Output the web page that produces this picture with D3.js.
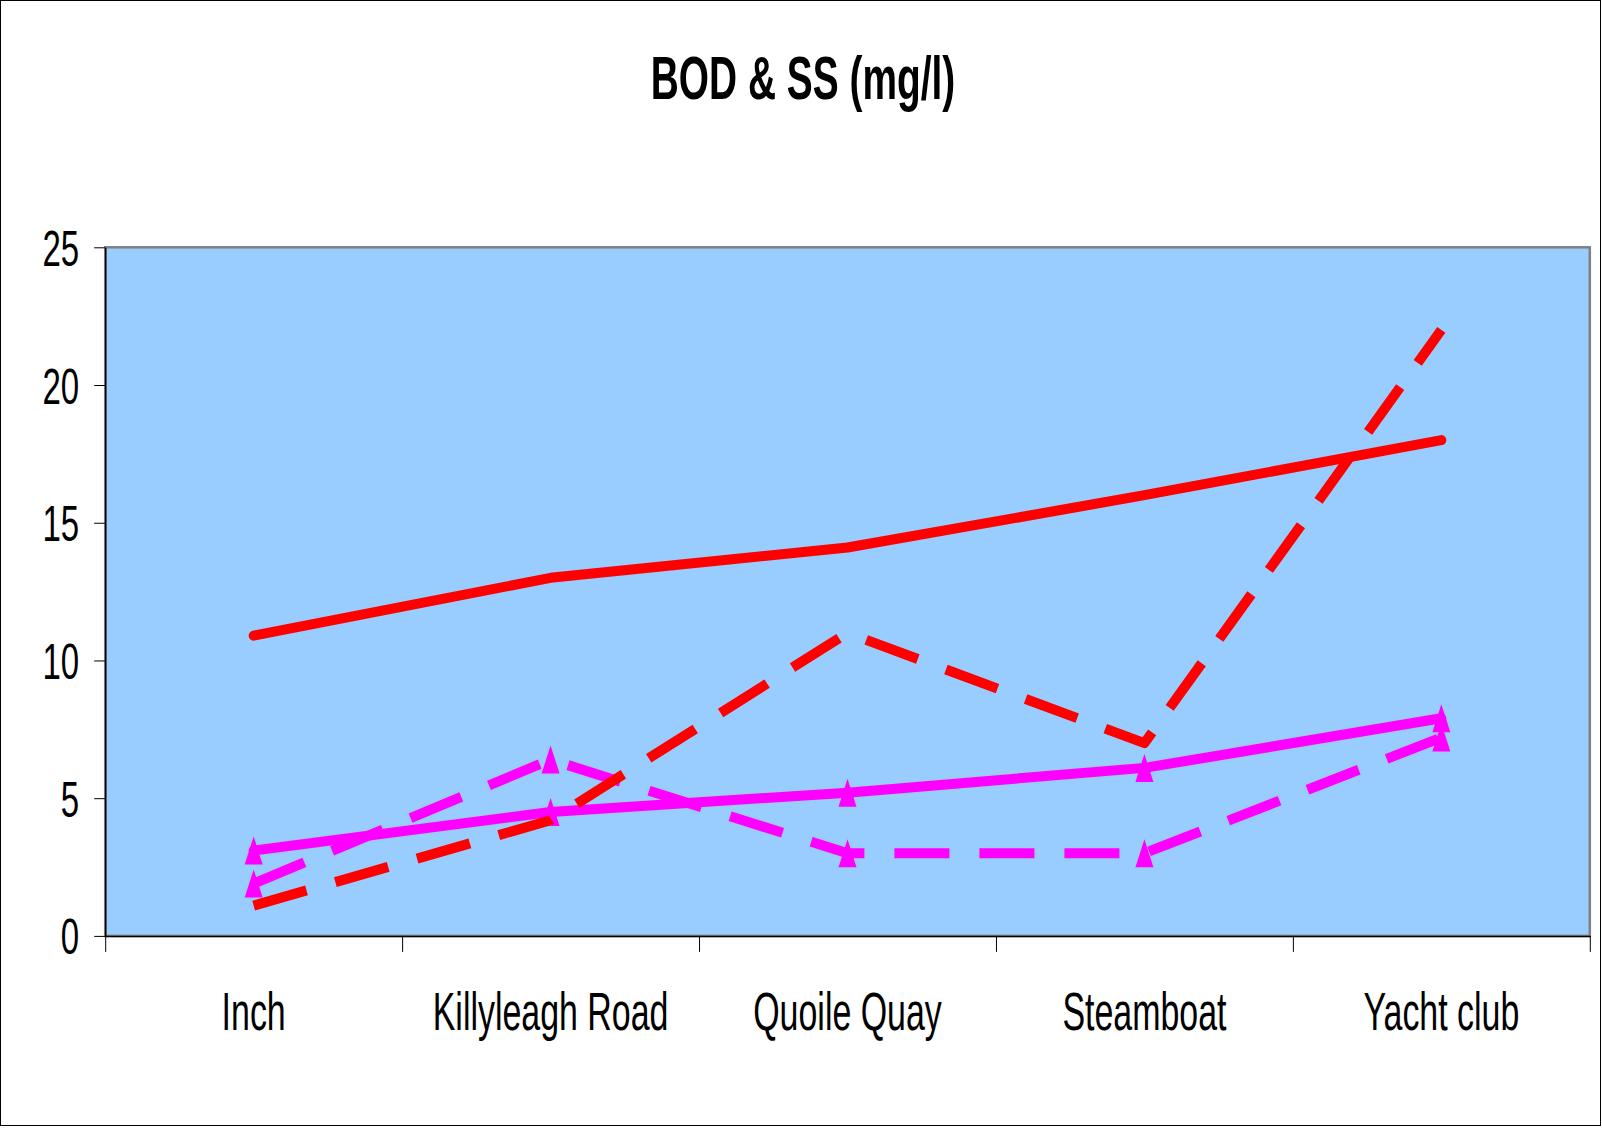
<!DOCTYPE html>
<html>
<head>
<meta charset="utf-8">
<script src="https://cdn.jsdelivr.net/npm/d3@7"></script>
<style>
  html, body { margin: 0; padding: 0; background: #fff; }
  svg { display: block; }
  text { font-family: "Liberation Sans", Arial, sans-serif; fill: #000; }
</style>
</head>
<body>
<svg id="chart" width="1602" height="1128"></svg>
<script>
// ---- data ----
const title = "BOD & SS (mg/l)";
const categories = ["Inch", "Killyleagh Road", "Quoile Quay", "Steamboat", "Yacht club"];
const redSolid   = [10.9, 13, 14.1, 16, 18];
const redDashed  = [1.1, 4.2, 11, 7, 22];
const pinkSolid  = [3.1, 4.5, 5.2, 6.1, 7.9];
const pinkDashed = [1.9, 6.4, 3, 3, 7.2];
const yTicks = [0, 5, 10, 15, 20, 25];

// ---- layout / style ----
const W = 1602, H = 1128;
const plot = { left: 105.2, right: 1589.8, top: 247.3, bottom: 935.9 };
const RED = "#FF0000", PINK = "#FF00FF";
const kTitle = 0.627, kY = 0.66, kX = 0.64;

const svg = d3.select("#chart");
svg.append("rect").attr("x", 0.5).attr("y", 0.5).attr("width", W - 2).attr("height", H - 3)
  .attr("fill", "#fff").attr("stroke", "#000").attr("stroke-width", 1);

const x = d3.scaleBand().domain(categories).range([plot.left, plot.right]).padding(0);
const xEdges = d3.scaleLinear().domain([0, categories.length]).range([plot.left, plot.right]);
const y = d3.scaleLinear().domain([0, 25]).range([plot.bottom, plot.top]);

// plot area
svg.append("rect")
  .attr("x", plot.left).attr("y", plot.top)
  .attr("width", plot.right - plot.left).attr("height", plot.bottom - plot.top)
  .attr("fill", "#99CCFF").attr("stroke", "#808080").attr("stroke-width", 2.5);

// title (horizontally condensed like Arial Narrow)
svg.append("text")
  .attr("transform", `translate(803,99) scale(${kTitle},1)`)
  .attr("text-anchor", "middle").attr("font-size", 62).attr("font-weight", "bold")
  .text(title);

// y axis
const yPad = 15, yTick = 11;
const yAxis = svg.append("g").attr("transform", `translate(${plot.left},0)`)
  .call(d3.axisLeft(y).tickValues(yTicks).tickSize(yTick).tickSizeOuter(0).tickPadding(yPad).tickFormat(d3.format("d")));
yAxis.select(".domain").attr("stroke", "#000").attr("stroke-width", 1.5);
yAxis.selectAll(".tick line").attr("stroke", "#000");
yAxis.selectAll(".tick text").attr("font-size", 50).attr("dy", "0.36em")
  .attr("font-family", "'Liberation Sans', Arial, sans-serif").attr("fill", "#000")
  .attr("x", -(yTick + yPad) / kY)
  .attr("transform", `scale(${kY},1)`);

// x axis tick marks at category boundaries
const xTickAxis = svg.append("g").attr("transform", `translate(0,${plot.bottom})`)
  .call(d3.axisBottom(xEdges).tickValues(d3.range(categories.length + 1)).tickSize(16).tickSizeOuter(0).tickFormat(""));
xTickAxis.select(".domain").attr("stroke", "#000").attr("stroke-width", 1.5);
xTickAxis.selectAll(".tick line").attr("stroke", "#000");

// x axis labels
const xAxis = svg.append("g").attr("transform", `translate(0,${plot.bottom})`)
  .call(d3.axisBottom(x).tickSize(0).tickPadding(56.5));
xAxis.select(".domain").remove();
xAxis.selectAll(".tick text").attr("font-size", 53)
  .attr("font-family", "'Liberation Sans', Arial, sans-serif").attr("fill", "#000")
  .attr("transform", `scale(${kX},1)`);

// series
const cx = i => x(categories[i]) + x.bandwidth() / 2;
const line = d3.line().x((d, i) => cx(i)).y(d => y(d));
const series = [
  { values: pinkSolid,  color: PINK, dash: null,    marker: true },
  { values: pinkDashed, color: PINK, dash: "55,30", marker: true },
  { values: redSolid,   color: RED,  dash: null,    marker: false },
  { values: redDashed,  color: RED,  dash: "55,30", marker: false }
];
const tri = "M0,-14L9,14L-9,14Z";
series.forEach(s => {
  svg.append("path").datum(s.values)
    .attr("d", line).attr("fill", "none")
    .attr("stroke", s.color).attr("stroke-width", 10)
    .attr("stroke-linejoin", "round")
    .attr("stroke-linecap", s.dash ? "butt" : "round")
    .attr("stroke-dasharray", s.dash);
  if (s.marker) {
    svg.append("g").selectAll("path").data(s.values).join("path")
      .attr("d", tri)
      .attr("transform", (d, i) => `translate(${cx(i)},${y(d)})`)
      .attr("fill", s.color);
  }
});
</script>
</body>
</html>
